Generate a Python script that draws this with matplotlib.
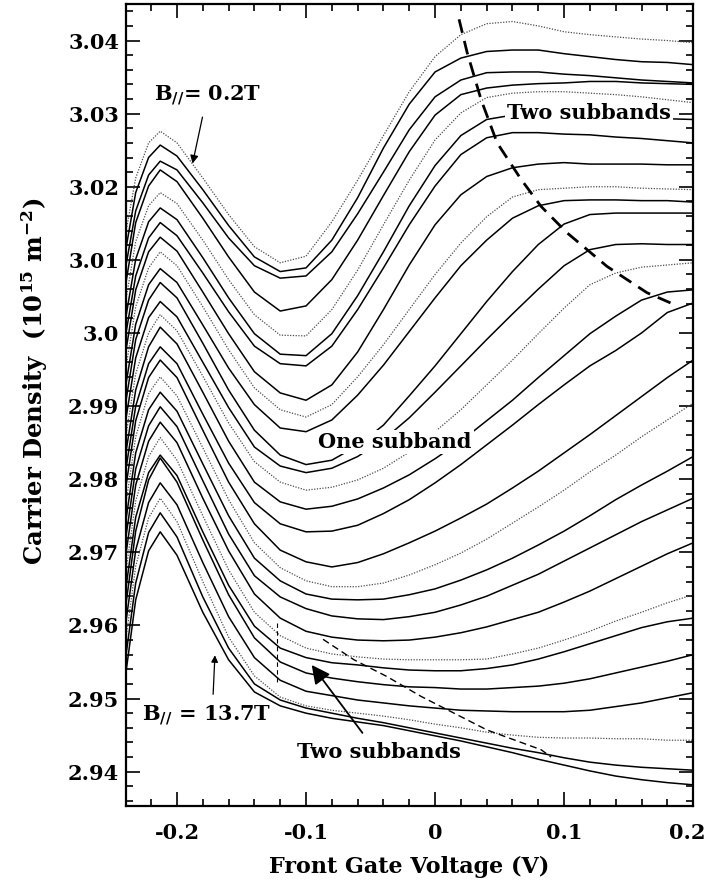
import matplotlib

matplotlib.use("Agg")
import matplotlib.pyplot as plt
import matplotlib.transforms as mtransforms
from matplotlib.ticker import FixedLocator, MultipleLocator

plt.rcParams["font.family"] = "DejaVu Serif"
plt.rcParams["font.weight"] = "bold"
plt.rcParams["axes.labelweight"] = "bold"
plt.rcParams["mathtext.fontset"] = "custom"
plt.rcParams["mathtext.rm"] = "DejaVu Serif:bold"
plt.rcParams["mathtext.it"] = "DejaVu Serif:bold"
plt.rcParams["mathtext.bf"] = "DejaVu Serif:bold"

gate_v = [-0.24, -0.232, -0.222, -0.213, -0.2, -0.18, -0.16, -0.14, -0.12, -0.1, -0.08, -0.06,
          -0.04, -0.02, 0.0, 0.02, 0.04, 0.06, 0.08, 0.1, 0.12, 0.14, 0.16, 0.18, 0.2]

# carrier density (1e15 m^-2), one trace per in-plane field, B = 0.2 T (top) ... 13.7 T (bottom)
n_01 = [3.0134, 3.0212, 3.0260, 3.0276, 3.0260, 3.0212, 3.0162, 3.0118, 3.0096, 3.0105, 3.0152, 3.0209, 3.0270,
        3.0330, 3.0378, 3.0408, 3.0423, 3.0426, 3.0420, 3.0412, 3.0408, 3.0405, 3.0402, 3.0400, 3.0397]
n_02 = [3.0111, 3.0192, 3.0240, 3.0257, 3.0242, 3.0196, 3.0147, 3.0104, 3.0084, 3.0089, 3.0127, 3.0185, 3.0253,
        3.0313, 3.0357, 3.0376, 3.0385, 3.0387, 3.0387, 3.0382, 3.0378, 3.0374, 3.0371, 3.0370, 3.0367]
n_03 = [3.0088, 3.0167, 3.0216, 3.0235, 3.0223, 3.0178, 3.0130, 3.0092, 3.0075, 3.0078, 3.0111, 3.0163, 3.0220,
        3.0278, 3.0323, 3.0346, 3.0356, 3.0357, 3.0357, 3.0354, 3.0352, 3.0349, 3.0346, 3.0344, 3.0342]
n_04 = [3.0064, 3.0151, 3.0201, 3.0223, 3.0207, 3.0157, 3.0104, 3.0056, 3.0030, 3.0037, 3.0073, 3.0127, 3.0188,
        3.0248, 3.0298, 3.0326, 3.0335, 3.0339, 3.0341, 3.0342, 3.0344, 3.0344, 3.0342, 3.0341, 3.0340]
n_05 = [3.0041, 3.0125, 3.0174, 3.0192, 3.0177, 3.0127, 3.0073, 3.0025, 2.9997, 2.9996, 3.0032, 3.0086, 3.0148,
        3.0209, 3.0264, 3.0301, 3.0322, 3.0328, 3.0330, 3.0330, 3.0328, 3.0326, 3.0323, 3.0319, 3.0315]
n_06 = [3.0018, 3.0101, 3.0152, 3.0171, 3.0155, 3.0103, 3.0048, 2.9999, 2.9971, 2.9969, 2.9999, 3.0051, 3.0111,
        3.0174, 3.0229, 3.0270, 3.0292, 3.0298, 3.0298, 3.0297, 3.0296, 3.0294, 3.0294, 3.0293, 3.0292]
n_07 = [2.9995, 3.0078, 3.0130, 3.0151, 3.0133, 3.0082, 3.0029, 2.9982, 2.9958, 2.9955, 2.9982, 3.0032, 3.0089,
        3.0148, 3.0201, 3.0244, 3.0267, 3.0274, 3.0274, 3.0272, 3.0271, 3.0268, 3.0266, 3.0263, 3.0260]
n_08 = [2.9971, 3.0059, 3.0111, 3.0131, 3.0112, 3.0056, 2.9999, 2.9947, 2.9918, 2.9908, 2.9929, 2.9974, 3.0032,
        3.0093, 3.0148, 3.0189, 3.0214, 3.0226, 3.0231, 3.0233, 3.0231, 3.0231, 3.0231, 3.0230, 3.0230]
n_09 = [2.9948, 3.0036, 3.0089, 3.0111, 3.0092, 3.0036, 2.9977, 2.9925, 2.9895, 2.9885, 2.9902, 2.9940, 2.9984,
        3.0032, 3.0080, 3.0123, 3.0159, 3.0186, 3.0196, 3.0198, 3.0200, 3.0200, 3.0198, 3.0197, 3.0196]
n_10 = [2.9925, 3.0012, 3.0066, 3.0088, 3.0069, 3.0011, 2.9952, 2.9902, 2.9870, 2.9865, 2.9881, 2.9915, 2.9956,
        3.0002, 3.0048, 3.0092, 3.0127, 3.0157, 3.0174, 3.0181, 3.0182, 3.0182, 3.0181, 3.0181, 3.0179]
n_11 = [2.9902, 2.9991, 3.0045, 3.0069, 3.0048, 2.9986, 2.9922, 2.9867, 2.9833, 2.9820, 2.9826, 2.9846, 2.9874,
        2.9914, 2.9955, 2.9999, 3.0043, 3.0084, 3.0121, 3.0149, 3.0162, 3.0164, 3.0164, 3.0164, 3.0164]
n_12 = [2.9878, 2.9966, 3.0021, 3.0043, 3.0022, 2.9960, 2.9898, 2.9844, 2.9818, 2.9809, 2.9815, 2.9831, 2.9854,
        2.9884, 2.9919, 2.9955, 2.9991, 3.0026, 3.0060, 3.0092, 3.0114, 3.0121, 3.0122, 3.0121, 3.0121]
n_13 = [2.9855, 2.9944, 3.0000, 3.0025, 3.0003, 2.9941, 2.9877, 2.9824, 2.9796, 2.9785, 2.9789, 2.9799, 2.9815,
        2.9837, 2.9865, 2.9895, 2.9929, 2.9963, 2.9999, 3.0034, 3.0066, 3.0082, 3.0090, 3.0093, 3.0096]
n_14 = [2.9832, 2.9922, 2.9981, 3.0008, 2.9985, 2.9919, 2.9852, 2.9796, 2.9769, 2.9759, 2.9763, 2.9773, 2.9788,
        2.9806, 2.9828, 2.9852, 2.9880, 2.9908, 2.9939, 2.9969, 2.9999, 3.0023, 3.0045, 3.0056, 3.0059]
n_15 = [2.9809, 2.9900, 2.9958, 2.9981, 2.9958, 2.9889, 2.9822, 2.9768, 2.9739, 2.9728, 2.9729, 2.9737, 2.9753,
        2.9772, 2.9795, 2.9820, 2.9847, 2.9874, 2.9902, 2.9929, 2.9955, 2.9976, 3.0000, 3.0028, 3.0041]
n_16 = [2.9785, 2.9880, 2.9939, 2.9963, 2.9939, 2.9867, 2.9796, 2.9739, 2.9703, 2.9687, 2.9680, 2.9686, 2.9698,
        2.9713, 2.9729, 2.9747, 2.9766, 2.9788, 2.9811, 2.9836, 2.9861, 2.9887, 2.9913, 2.9939, 2.9963]
n_17 = [2.9762, 2.9858, 2.9917, 2.9940, 2.9914, 2.9843, 2.9772, 2.9713, 2.9679, 2.9661, 2.9653, 2.9653, 2.9658,
        2.9669, 2.9683, 2.9699, 2.9718, 2.9740, 2.9762, 2.9785, 2.9810, 2.9833, 2.9858, 2.9881, 2.9904]
n_18 = [2.9739, 2.9836, 2.9895, 2.9919, 2.9893, 2.9821, 2.9750, 2.9692, 2.9661, 2.9643, 2.9636, 2.9635, 2.9636,
        2.9642, 2.9650, 2.9662, 2.9676, 2.9692, 2.9710, 2.9729, 2.9750, 2.9772, 2.9792, 2.9811, 2.9831]
n_19 = [2.9716, 2.9814, 2.9873, 2.9899, 2.9872, 2.9798, 2.9725, 2.9668, 2.9639, 2.9623, 2.9613, 2.9609, 2.9608,
        2.9612, 2.9618, 2.9628, 2.9640, 2.9655, 2.9670, 2.9688, 2.9706, 2.9724, 2.9742, 2.9758, 2.9774]
n_20 = [2.9692, 2.9792, 2.9852, 2.9878, 2.9850, 2.9774, 2.9702, 2.9643, 2.9610, 2.9592, 2.9584, 2.9580, 2.9579,
        2.9580, 2.9584, 2.9590, 2.9598, 2.9608, 2.9618, 2.9632, 2.9647, 2.9664, 2.9681, 2.9698, 2.9713]
n_21 = [2.9669, 2.9770, 2.9831, 2.9857, 2.9826, 2.9750, 2.9676, 2.9618, 2.9586, 2.9569, 2.9561, 2.9557, 2.9554,
        2.9553, 2.9553, 2.9553, 2.9554, 2.9561, 2.9569, 2.9580, 2.9592, 2.9606, 2.9618, 2.9631, 2.9642]
n_22 = [2.9646, 2.9748, 2.9809, 2.9833, 2.9805, 2.9728, 2.9655, 2.9599, 2.9569, 2.9556, 2.9549, 2.9546, 2.9542,
        2.9539, 2.9538, 2.9538, 2.9541, 2.9546, 2.9554, 2.9564, 2.9575, 2.9586, 2.9597, 2.9605, 2.9610]
n_23 = [2.9623, 2.9729, 2.9799, 2.9829, 2.9796, 2.9717, 2.9642, 2.9583, 2.9550, 2.9535, 2.9528, 2.9523, 2.9519,
        2.9516, 2.9515, 2.9513, 2.9513, 2.9515, 2.9517, 2.9521, 2.9527, 2.9535, 2.9543, 2.9551, 2.9560]
n_24 = [2.9599, 2.9703, 2.9768, 2.9795, 2.9765, 2.9686, 2.9612, 2.9556, 2.9525, 2.9510, 2.9504, 2.9498, 2.9494,
        2.9490, 2.9487, 2.9484, 2.9483, 2.9482, 2.9482, 2.9482, 2.9484, 2.9489, 2.9494, 2.9501, 2.9508]
n_25 = [2.9576, 2.9681, 2.9747, 2.9774, 2.9742, 2.9660, 2.9584, 2.9531, 2.9502, 2.9490, 2.9484, 2.9480, 2.9476,
        2.9471, 2.9465, 2.9460, 2.9454, 2.9450, 2.9447, 2.9446, 2.9446, 2.9445, 2.9445, 2.9443, 2.9443]
n_26 = [2.9553, 2.9658, 2.9727, 2.9754, 2.9721, 2.9639, 2.9569, 2.9520, 2.9498, 2.9487, 2.9480, 2.9473, 2.9467,
        2.9460, 2.9453, 2.9446, 2.9439, 2.9432, 2.9426, 2.9419, 2.9413, 2.9409, 2.9406, 2.9404, 2.9402]
n_27 = [2.9530, 2.9635, 2.9702, 2.9728, 2.9696, 2.9618, 2.9553, 2.9509, 2.9490, 2.9480, 2.9473, 2.9468, 2.9463,
        2.9456, 2.9449, 2.9442, 2.9434, 2.9426, 2.9417, 2.9409, 2.9401, 2.9394, 2.9389, 2.9385, 2.9382]

traces = [n_01, n_02, n_03, n_04, n_05, n_06, n_07, n_08, n_09, n_10, n_11, n_12, n_13, n_14,
          n_15, n_16, n_17, n_18, n_19, n_20, n_21, n_22, n_23, n_24, n_25, n_26, n_27]

# one-/two-subband boundaries drawn by hand in the original
upper_bound_v = [0.0186, 0.0248, 0.0357, 0.0481, 0.0667, 0.0822, 0.1023, 0.1333, 0.1643, 0.1853]
upper_bound_n = [3.0429, 3.0384, 3.0319, 3.0260, 3.0210, 3.0173, 3.0137, 3.0091, 3.0055, 3.0039]
lower_bound_v = [-0.0868, -0.0628, -0.0372, -0.0109, 0.0403, 0.0822, 0.0899]
lower_bound_n = [2.9581, 2.9553, 2.9530, 2.9503, 2.9457, 2.9430, 2.9420]
onset_v = [-0.1225, -0.1225]
onset_n = [2.9604, 2.9522]

xticks = [-0.2, -0.1, 0.0, 0.1, 0.2]
xtick_labels = ["-0.2", "-0.1", "0", "0.1", "0.2"]
yticks = [2.94, 2.95, 2.96, 2.97, 2.98, 2.99, 3.0, 3.01, 3.02, 3.03, 3.04]
ytick_labels = ["2.94", "2.95", "2.96", "2.97", "2.98", "2.99", "3.0", "3.01", "3.02", "3.03", "3.04"]

fig = plt.figure(figsize=(7.08, 8.81), dpi=100)
ax = fig.add_axes([0.178, 0.0851, 0.801, 0.9104])

for i, dens in enumerate(traces):
    if i % 4 == 0:
        ax.plot(gate_v, dens, color="0.3", lw=0.9, ls=(0, (1, 1.2)))
    else:
        ax.plot(gate_v, dens, color="k", lw=1.1)

ax.plot(upper_bound_v, upper_bound_n, color="k", lw=2.0, ls=(0, (5, 3)))
ax.plot(lower_bound_v, lower_bound_n, color="k", lw=1.0, ls=(0, (5, 3)))
ax.plot(onset_v, onset_n, color="k", lw=0.8, ls=(0, (4, 3)))

ax.set_xlim(-0.2395, 0.2)
ax.set_ylim(2.9353, 3.0450)
ax.xaxis.set_major_locator(FixedLocator(xticks))
ax.set_xticklabels(xtick_labels)
ax.yaxis.set_major_locator(FixedLocator(yticks))
ax.set_yticklabels(ytick_labels)
ax.xaxis.set_minor_locator(MultipleLocator(0.02))
ax.yaxis.set_minor_locator(MultipleLocator(0.002))
ax.tick_params(which="both", direction="in", top=True, right=True, width=1.2)
ax.tick_params(which="major", length=10, labelsize=15)
ax.tick_params(axis="x", which="major", pad=12)
ax.tick_params(axis="y", which="major", pad=5)
ax.tick_params(which="minor", length=5)
for s in ax.spines.values():
    s.set_linewidth(1.6)
# keep the last x label inside the canvas
last = ax.get_xticklabels()[-1]
last.set_transform(last.get_transform() + mtransforms.ScaledTranslation(-4 / 72, 0, fig.dpi_scale_trans))

ax.set_xlabel("Front Gate Voltage (V)", fontsize=16, fontweight="bold")
ax.xaxis.set_label_coords(0.5, -0.062)
ax.set_ylabel(r"Carrier Density  (10$^{15}$ m$^{-2}$)", fontsize=17.5, fontweight="bold")
ax.yaxis.label.set_verticalalignment("center")
ax.yaxis.set_label_coords(-0.162, 0.53)

box = dict(facecolor="white", edgecolor="none", pad=1.5)
ax.text(0.1194, 3.0301, "Two subbands", fontsize=15, ha="center", va="center", bbox=box)
ax.text(-0.031, 2.9851, "One subband", fontsize=15, ha="center", va="center", bbox=box)
ax.text(-0.0434, 2.9427, "Two subbands", fontsize=15, ha="center", va="center")
ax.text(-0.176, 3.0326, r"$\mathrm{B}_{//}$= 0.2T", fontsize=15, ha="center", va="center")
ax.text(-0.1767, 2.9478, r"$\mathrm{B}_{//}$ = 13.7T", fontsize=15, ha="center", va="center")
ax.annotate("", xy=(-0.1884, 3.0228), xytext=(-0.1798, 3.0299),
            arrowprops=dict(arrowstyle="-|>", color="k", lw=0.9, mutation_scale=12))
ax.annotate("", xy=(-0.1705, 2.9563), xytext=(-0.1721, 2.9502),
            arrowprops=dict(arrowstyle="-|>", color="k", lw=0.9, mutation_scale=10))
ax.annotate("", xy=(-0.0969, 2.9549), xytext=(-0.055, 2.9450),
            arrowprops=dict(arrowstyle="-|>", color="k", lw=1.3, mutation_scale=28))

fig.savefig("out.png", dpi=100)
